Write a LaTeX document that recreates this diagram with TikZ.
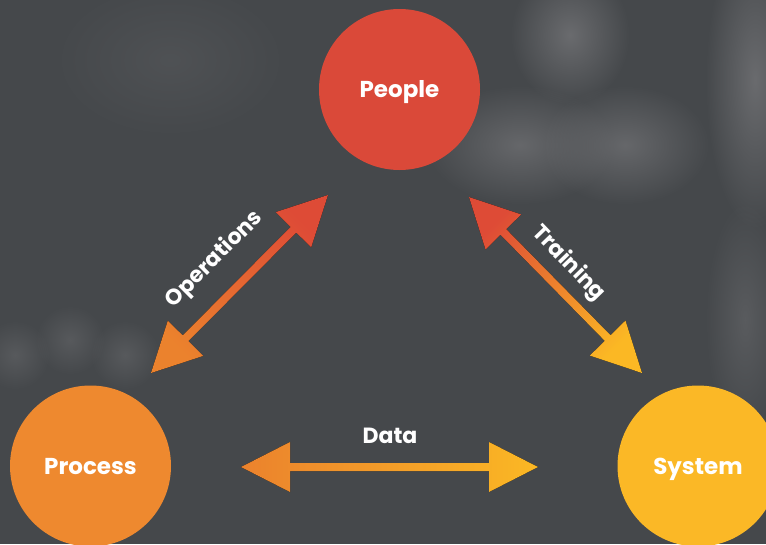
\documentclass[tikz,border=0pt]{standalone}
\usepackage{fontspec}
\setmainfont{Poppins}
\usetikzlibrary{calc,fadings}

\definecolor{bg}{HTML}{45484B}
\definecolor{haze}{HTML}{6E6F72}
\definecolor{peoplecol}{HTML}{DA4939}
\definecolor{processcol}{HTML}{EE892F}
\definecolor{systemcol}{HTML}{FBB826}
\definecolor{tipred}{HTML}{DE4B36}
\definecolor{tiporange}{HTML}{EB822D}
\definecolor{tipyellow}{HTML}{FBB824}

\tikzfading[name=softblob, inner color=transparent!0, outer color=transparent!100]

\tikzset{
  hub/.style={circle, fill=#1, minimum size=161pt, inner sep=0pt,
    text=white, font=\bfseries\fontsize{23}{26}\selectfont,
    text height=16.5pt, text depth=0pt},
  flowlabel/.style={text=white, font=\bfseries\fontsize{22}{25}\selectfont,
    inner sep=0pt, text height=16pt, text depth=0pt},
  glow/.style={fill=haze, path fading=softblob}
}

% head length, head half-width, shaft half-width
\newcommand\headlen{49pt}
\newcommand\headhalf{25pt}
\newcommand\shafthalf{4pt}

% #1,#2: tip coordinates; #3: shading keys
\newcommand\twoway[3]{%
  \coordinate (#1-b) at ($(#1)!\headlen!(#2)$);
  \coordinate (#2-b) at ($(#2)!\headlen!(#1)$);
  \fill[#3] (#1)
    -- ($(#1-b)!\headhalf!90:(#1)$) -- ($(#1-b)!\shafthalf!90:(#1)$)
    -- ($(#2-b)!\shafthalf!-90:(#2)$) -- ($(#2-b)!\headhalf!-90:(#2)$)
    -- (#2)
    -- ($(#2-b)!\headhalf!90:(#2)$) -- ($(#2-b)!\shafthalf!90:(#2)$)
    -- ($(#1-b)!\shafthalf!-90:(#1)$) -- ($(#1-b)!\headhalf!-90:(#1)$)
    -- cycle;%
}

\begin{document}
\begin{tikzpicture}[x=1pt, y=-1pt]
  \useasboundingbox (0,0) rectangle (766,544);
  \fill[bg] (0,0) rectangle (766,544);

  % blurred backdrop
  \begin{scope}
    \clip (0,0) rectangle (766,544);
    \fill[glow, opacity=0.9] (570,35) ellipse (60 and 70);
    \fill[glow, opacity=0.8] (520,145) ellipse (95 and 60);
    \fill[glow, opacity=0.8] (625,145) ellipse (85 and 60);
    \fill[glow, opacity=0.9] (755,80) ellipse (50 and 150);
    \fill[glow, opacity=0.5] (745,320) ellipse (40 and 120);
    \fill[glow, opacity=0.45] (15,355) ellipse (35 and 35);
    \fill[glow, opacity=0.45] (70,340) ellipse (35 and 35);
    \fill[glow, opacity=0.45] (125,355) ellipse (35 and 35);
    \fill[glow, opacity=0.25] (170,60) ellipse (120 and 80);
  \end{scope}

  % hubs
  \node[hub=peoplecol]  (people)  at (399.5,89.5) {People};
  \node[hub=processcol] (process) at (90.5,466)   {Process};
  \node[hub=systemcol]  (system)  at (698,466)    {System};

  % arrow tips
  \coordinate (opsA) at (151,373);
  \coordinate (opsB) at (328,195);
  \coordinate (trnA) at (469,197);
  \coordinate (trnB) at (642,373);
  \coordinate (datA) at (241,467);
  \coordinate (datB) at (538,467);

  \twoway{opsA}{opsB}{left color=tiporange, right color=tipred, shading angle=135}
  \twoway{trnA}{trnB}{left color=tipred, right color=tipyellow, shading angle=45}
  \twoway{datA}{datB}{left color=tiporange, right color=tipyellow}

  % labels
  \node[flowlabel, rotate=45]  (opslabel) at (213,258) {Operations};
  \node[flowlabel, rotate=-46] (trnlabel) at (570,262) {Training};
  \node[flowlabel]             (datlabel) at (390,435) {Data};
\end{tikzpicture}
\end{document}
